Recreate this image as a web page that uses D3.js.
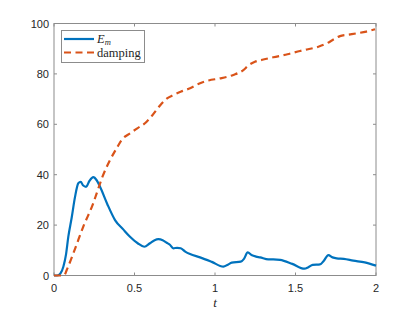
<!DOCTYPE html>
<html>
<head>
<meta charset="utf-8">
<script src="https://cdn.jsdelivr.net/npm/d3@7"></script>
<style>
  body { margin: 0; background: #fff; }
  svg { display: block; }
</style>
</head>
<body>
<script>
// values
var emT = [0, 0.02, 0.04, 0.058, 0.075, 0.089, 0.11, 0.13, 0.151, 0.166, 0.18, 0.199, 0.22, 0.244, 0.265, 0.286, 0.33, 0.379, 0.43, 0.472, 0.52, 0.561, 0.596, 0.625, 0.648, 0.675, 0.70, 0.72, 0.741, 0.765, 0.787, 0.815, 0.845, 0.907, 0.98, 1.052, 1.08, 1.104, 1.16, 1.18, 1.203, 1.23, 1.255, 1.28, 1.331, 1.362, 1.404, 1.48, 1.555, 1.58, 1.607, 1.652, 1.675, 1.704, 1.73, 1.756, 1.80, 1.859, 1.93, 2.0];
var emV = [0, 0, 0.8, 3.5, 8.5, 15.4, 23, 31, 36.6, 37.2, 35.8, 35.2, 37.5, 39, 37.8, 35.2, 28.5, 22, 18.3, 15.4, 12.8, 11.4, 12.8, 14.0, 14.4, 14.0, 13, 12.2, 10.8, 11.0, 10.8, 9.5, 8.5, 7.2, 5.4, 3.5, 4.3, 5.1, 5.5, 6.6, 9.2, 8.0, 7.5, 7.2, 6.4, 6.4, 6.2, 4.6, 2.7, 3.3, 4.2, 4.4, 5.8, 8.1, 7.2, 6.8, 6.6, 5.9, 5.2, 3.9];

var dampT = [0, 0.04, 0.065, 0.079, 0.13, 0.182, 0.244, 0.265, 0.30, 0.348, 0.39, 0.42, 0.472, 0.52, 0.565, 0.61, 0.669, 0.70, 0.741, 0.79, 0.845, 0.907, 0.96, 1.031, 1.114, 1.176, 1.21, 1.248, 1.30, 1.362, 1.45, 1.528, 1.642, 1.694, 1.74, 1.776, 1.82, 1.88, 1.94, 1.994];
var dampV = [0, 0, 0.3, 2.2, 10.5, 19.4, 28.7, 32.6, 39, 45.8, 50.6, 53.8, 56.4, 58.5, 60.4, 63.5, 68.3, 70.2, 71.6, 73.0, 74.3, 76.3, 77.4, 78.2, 79.6, 81.5, 83.5, 84.8, 85.7, 86.6, 87.8, 89.1, 90.8, 92.1, 93.8, 95, 95.5, 96.1, 96.8, 97.7];

var xTicks = [0, 0.5, 1, 1.5, 2];
var yTicks = [0, 20, 40, 60, 80, 100];

var width = 415, height = 312;
var plotL = 54, plotR = 376, plotT = 23.5, plotB = 275.5;
var axisColor = "#8c8c8c", textColor = "#262626";

var svg = d3.select("body").append("svg")
  .attr("width", width)
  .attr("height", height);

var xScale = d3.scaleLinear().domain([0, 2]).range([plotL, plotR]);
var yScale = d3.scaleLinear().domain([0, 100]).range([plotB, plotT]);

// box outline
svg.append("rect")
  .attr("x", plotL).attr("y", plotT)
  .attr("width", plotR - plotL).attr("height", plotB - plotT)
  .attr("fill", "none")
  .attr("stroke", axisColor)
  .attr("stroke-width", 1);

// ticks go inward, on all four sides like matlab's "box on"
var tickLen = 3;
xTicks.forEach(function(t) {
  var x = xScale(t);
  svg.append("line").attr("x1", x).attr("x2", x).attr("y1", plotB).attr("y2", plotB - tickLen)
    .attr("stroke", axisColor);
  svg.append("line").attr("x1", x).attr("x2", x).attr("y1", plotT).attr("y2", plotT + tickLen)
    .attr("stroke", axisColor);
  svg.append("text")
    .attr("x", x).attr("y", plotB + 16)
    .attr("text-anchor", "middle")
    .attr("font-family", "Liberation Sans, Arial, sans-serif")
    .attr("font-size", 11)
    .attr("fill", textColor)
    .text(t);
});
yTicks.forEach(function(v) {
  var y = yScale(v);
  svg.append("line").attr("x1", plotL).attr("x2", plotL + tickLen).attr("y1", y).attr("y2", y)
    .attr("stroke", axisColor);
  svg.append("line").attr("x1", plotR).attr("x2", plotR - tickLen).attr("y1", y).attr("y2", y)
    .attr("stroke", axisColor);
  svg.append("text")
    .attr("x", plotL - 5).attr("y", y + 4)
    .attr("text-anchor", "end")
    .attr("font-family", "Liberation Sans, Arial, sans-serif")
    .attr("font-size", 11)
    .attr("fill", textColor)
    .text(v);
});

// x label
svg.append("text")
  .attr("x", xScale(1)).attr("y", plotB + 31)
  .attr("text-anchor", "middle")
  .attr("font-family", "Liberation Serif, serif")
  .attr("font-style", "italic")
  .attr("font-size", 13)
  .attr("fill", textColor)
  .text("t");

var line = d3.line()
  .x(function(d) { return xScale(d[0]); })
  .y(function(d) { return yScale(d[1]); })
  .curve(d3.curveMonotoneX);

var emData = emT.map(function(t, i) { return [t, emV[i]]; });
var dampData = dampT.map(function(t, i) { return [t, dampV[i]]; });

svg.append("path")
  .datum(emData)
  .attr("d", line)
  .attr("fill", "none")
  .attr("stroke", "#0072BD")
  .attr("stroke-width", 2.2)
  .attr("stroke-linejoin", "round");

svg.append("path")
  .datum(dampData)
  .attr("d", line)
  .attr("fill", "none")
  .attr("stroke", "#D95319")
  .attr("stroke-width", 2.2)
  .attr("stroke-dasharray", "7,4.5");

// legend
var lg = svg.append("g");
lg.append("rect")
  .attr("x", 61.5).attr("y", 30.5)
  .attr("width", 83).attr("height", 32)
  .attr("fill", "#fff")
  .attr("stroke", axisColor);
lg.append("line")
  .attr("x1", 64).attr("x2", 94).attr("y1", 39).attr("y2", 39)
  .attr("stroke", "#0072BD").attr("stroke-width", 2.2);
lg.append("line")
  .attr("x1", 64).attr("x2", 94).attr("y1", 52.5).attr("y2", 52.5)
  .attr("stroke", "#D95319").attr("stroke-width", 2.2)
  .attr("stroke-dasharray", "7,4.5");
var em = lg.append("text")
  .attr("x", 97).attr("y", 43)
  .attr("font-family", "Liberation Serif, serif")
  .attr("font-size", 12.5)
  .attr("fill", textColor);
em.append("tspan").attr("font-style", "italic").text("E");
em.append("tspan").attr("font-style", "italic").attr("font-size", 8.5).attr("dy", 1.5).text("m");
lg.append("text")
  .attr("x", 97).attr("y", 57)
  .attr("font-family", "Liberation Serif, serif")
  .attr("font-size", 12.5)
  .attr("fill", textColor)
  .text("damping");
</script>
</body>
</html>
